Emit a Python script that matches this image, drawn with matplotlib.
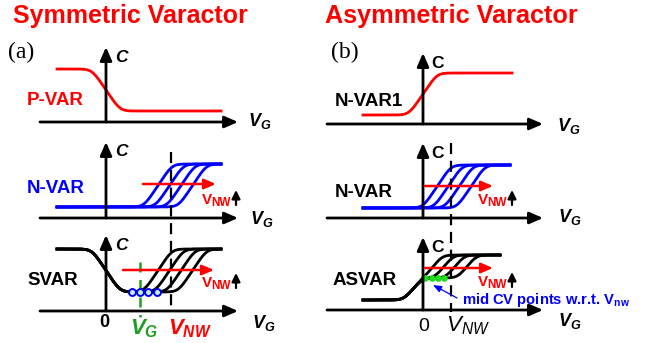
import matplotlib
matplotlib.use("Agg")

import numpy as np
import matplotlib.pyplot as plt

plt.rcParams['font.family'] = 'Liberation Sans'
plt.rcParams['mathtext.fontset'] = 'custom'
plt.rcParams['mathtext.rm'] = 'Liberation Sans:bold'
plt.rcParams['mathtext.it'] = 'Liberation Sans:italic:bold'
plt.rcParams['mathtext.bf'] = 'Liberation Sans:bold'
plt.rcParams['mathtext.sf'] = 'Liberation Sans:italic'

RED = '#ff0000'
BLUE = '#0000ff'
GREEN = '#1e9e1e'

# C-V sketches, in panel units (V along x from the C axis, C up from the V axis)
PVAR_SPAN = (-49, 115)
PVAR_LEVELS = (53, 11)          # C on the left, C on the right
PVAR_EDGE = 0

NVAR_A_SPAN = (-49, 115)
NVAR_A_LEVELS = (11, 54)
NVAR_A_SHIFTS = [52, 63.5, 75, 86.5]

SVAR_SPAN = (-49, 115)
SVAR_LEVELS = (62, 19, 62)      # accumulation, depletion, inversion
SVAR_EDGE = 0
SVAR_SHIFTS = [52, 63.5, 75, 86.5]
SVAR_POINTS = [26, 34, 42, 51]
VG_BIAS = 34
VNW_A = 65

NVAR1_SPAN = (-60, 89)
NVAR1_LEVELS = (9, 51)
NVAR1_EDGE = 0

NVAR_B_SPAN = (-60, 87)
NVAR_B_LEVELS = (10, 53)
NVAR_B_SHIFTS = [14, 25, 36, 48]

ASVAR_SPAN = (-60, 77)
ASVAR_LEVELS = (10, 32, 55)
ASVAR_EDGE = -10
ASVAR_SHIFTS = [10, 21, 32, 44]
ASVAR_POINTS = [2, 9, 15, 21]
VNW_B = 28


def ramp(v, v0, half=13, soft=3.0):
    """0 -> 1 linear ramp centred on v0 with rounded corners."""
    a = soft * np.logaddexp(0, (v - (v0 - half)) / soft)
    b = soft * np.logaddexp(0, (v - (v0 + half)) / soft)
    return (a - b) / (2 * half)


def px(o, v, c):
    return o[0] + np.asarray(v), o[1] - np.asarray(c)


def arrow(ax, p0, p1, color='k', lw=2.0, hl=0.8, hw=0.35):
    ax.annotate('', xy=p1, xytext=p0,
                arrowprops=dict(arrowstyle=f'-|>,head_length={hl},head_width={hw}',
                                color=color, lw=lw, shrinkA=0, shrinkB=0))


def axes_frame(ax, o, x0, x1, ytop, clabel, cstyle='italic'):
    arrow(ax, (x0, o[1]), (x1, o[1]))
    arrow(ax, (o[0], o[1]), (o[0], ytop))
    ax.text(o[0] + 15, ytop + 10, clabel, fontsize=12.5, fontweight='bold',
            fontstyle=cstyle, ha='center', va='center')


def vnw_tag(ax, x, y):
    ax.text(x, y, 'V', color=RED, fontsize=11, fontweight='bold', va='baseline')
    ax.text(x + 9, y + 2, 'NW', color=RED, fontsize=8.5, fontweight='bold', va='baseline')
    arrow(ax, (x + 34, y + 1), (x + 34, y - 14), lw=1.6, hl=0.5, hw=0.25)


fig = plt.figure(figsize=(6.49, 3.43), dpi=100)
ax = fig.add_axes([0, 0, 1, 1])
ax.set_xlim(0, 649)
ax.set_ylim(343, 0)
ax.axis('off')

# ---------------- (a) symmetric varactor ----------------
ax.text(13, 23, 'Symmetric Varactor', color=RED, fontsize=18, fontweight='bold')
ax.text(8, 58, '(a)', family='Liberation Serif', fontsize=17)

# P-VAR
o = (106, 122)
axes_frame(ax, o, 40, 238, 47, 'C')
ax.text(248, 126, '$V_G$', fontsize=13, va='baseline')
v = np.linspace(*PVAR_SPAN, 400)
c = PVAR_LEVELS[0] + (PVAR_LEVELS[1] - PVAR_LEVELS[0]) * ramp(v, PVAR_EDGE, 14)
ax.plot(*px(o, v, c), color=RED, lw=2.0)
ax.text(27, 105, 'P-VAR', color=RED, fontsize=13.5, fontweight='bold')

# N-VAR
o = (106, 218)
axes_frame(ax, o, 40, 238, 142, 'C')
ax.text(250, 224, '$V_G$', fontsize=13, va='baseline')
v = np.linspace(*NVAR_A_SPAN, 400)
for s in NVAR_A_SHIFTS:
    c = NVAR_A_LEVELS[0] + (NVAR_A_LEVELS[1] - NVAR_A_LEVELS[0]) * ramp(v, s, 14)
    ax.plot(*px(o, v, c), color=BLUE, lw=2.0)
arrow(ax, (143, 184), (216, 184), color=RED, lw=1.8, hl=0.7, hw=0.3)
vnw_tag(ax, 202, 204)
ax.text(27, 193, 'N-VAR', color=BLUE, fontsize=13.5, fontweight='bold')

# SVAR
o = (106, 311)
axes_frame(ax, o, 40, 238, 235, 'C')
ax.text(252, 328, '$V_G$', fontsize=13, va='baseline')
v = np.linspace(*SVAR_SPAN, 400)
for s in SVAR_SHIFTS:
    c = (SVAR_LEVELS[0] + (SVAR_LEVELS[1] - SVAR_LEVELS[0]) * ramp(v, SVAR_EDGE, 14)
         + (SVAR_LEVELS[2] - SVAR_LEVELS[1]) * ramp(v, s, 14))
    ax.plot(*px(o, v, c), color='k', lw=2.0)
arrow(ax, (123, 270), (214, 270), color=RED, lw=1.8, hl=0.7, hw=0.3)
vnw_tag(ax, 202, 287)
ax.plot(*px(o, [VG_BIAS, VG_BIAS], [49, -6]), color=GREEN, lw=1.8, ls=(0, (4, 3)))
ax.plot(*px(o, [VNW_A, VNW_A], [159, 0]), color='k', lw=1.6, ls=(0, (5, 3)))
ax.plot(*px(o, SVAR_POINTS, [SVAR_LEVELS[1]] * len(SVAR_POINTS)), 'o', ms=5,
        mfc='#c8f0c8', mec=BLUE, mew=1.4, ls='none')
ax.text(27, 285, 'SVAR', fontsize=13.5, fontweight='bold')
ax.text(104, 327, '0', fontsize=13, fontweight='bold', ha='center')
ax.text(130, 334, '$V_G$', color=GREEN, fontsize=16)
ax.text(168, 334, '$V_{NW}$', color=RED, fontsize=16)

# ---------------- (b) asymmetric varactor ----------------
ax.text(325, 23, 'Asymmetric Varactor', color=RED, fontsize=18.2, fontweight='bold')
ax.text(331, 58, '(b)', family='Liberation Serif', fontsize=17)

# N-VAR1
o = (423, 124)
axes_frame(ax, o, 327, 543, 53, 'C', 'normal')
ax.text(557, 131, '$V_G$', fontsize=13, va='baseline')
v = np.linspace(*NVAR1_SPAN, 400)
c = NVAR1_LEVELS[0] + (NVAR1_LEVELS[1] - NVAR1_LEVELS[0]) * ramp(v, NVAR1_EDGE, 14)
ax.plot(*px(o, v, c), color=RED, lw=2.0)
ax.text(335, 106, 'N-VAR1', fontsize=13.5, fontweight='bold')

# N-VAR
o = (423, 218)
axes_frame(ax, o, 327, 543, 143, 'C', 'normal')
ax.text(558, 222, '$V_G$', fontsize=13, va='baseline')
v = np.linspace(*NVAR_B_SPAN, 400)
for s in NVAR_B_SHIFTS:
    c = NVAR_B_LEVELS[0] + (NVAR_B_LEVELS[1] - NVAR_B_LEVELS[0]) * ramp(v, s, 14)
    ax.plot(*px(o, v, c), color=BLUE, lw=2.0)
arrow(ax, (425, 186), (493, 186), color=RED, lw=1.8, hl=0.7, hw=0.3)
vnw_tag(ax, 478, 204)
ax.text(335, 197, 'N-VAR', fontsize=13.5, fontweight='bold')

# ASVAR
o = (423, 310)
axes_frame(ax, o, 327, 543, 237, 'C', 'normal')
ax.text(558, 326, '$V_G$', fontsize=13, va='baseline')
v = np.linspace(*ASVAR_SPAN, 400)
for s in ASVAR_SHIFTS:
    c = (ASVAR_LEVELS[0] + (ASVAR_LEVELS[1] - ASVAR_LEVELS[0]) * ramp(v, ASVAR_EDGE, 9)
         + (ASVAR_LEVELS[2] - ASVAR_LEVELS[1]) * ramp(v, s, 9))
    ax.plot(*px(o, v, c), color='k', lw=2.0)
arrow(ax, (425, 268), (493, 268), color=RED, lw=1.8, hl=0.7, hw=0.3)
vnw_tag(ax, 478, 286)
ax.plot(*px(o, [VNW_B, VNW_B], [167, -2]), color='k', lw=1.6, ls=(0, (5, 3)))
ax.plot(*px(o, ASVAR_POINTS, [ASVAR_LEVELS[1]] * len(ASVAR_POINTS)), 'o', ms=3.8,
        color='#22dd22', ls='none')
arrow(ax, (457, 298), (433, 285), color=BLUE, lw=0.9, hl=0.5, hw=0.2)
ax.text(462, 304, r'mid CV points w.r.t. $\mathrm{V_{nw}}$', color=BLUE,
        fontsize=10.6, fontweight='bold')
ax.text(333, 285, 'ASVAR', fontsize=13.5, fontweight='bold')
ax.text(424, 331, '0', fontsize=14, ha='center')
ax.text(446, 331, r'$\mathsf{V_{NW}}$', fontsize=16)

fig.savefig('out.png', dpi=100)
